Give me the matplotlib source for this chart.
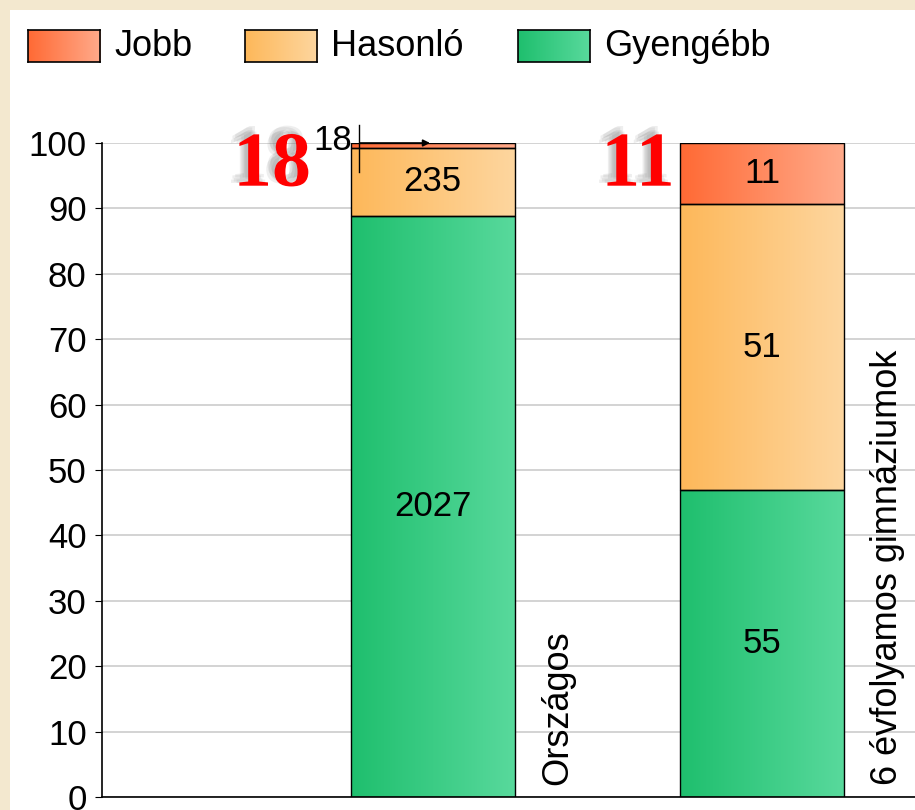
import numpy as np
import matplotlib.pyplot as plt
import matplotlib.patheffects as pe
from matplotlib.patches import Rectangle
from matplotlib.colors import LinearSegmentedColormap

plt.rcParams['font.family'] = ['Liberation Sans', 'DejaVu Sans']

categories = ['Országos', '6 évfolyamos gimnáziumok']
series = ['Jobb', 'Hasonló', 'Gyengébb']
counts = {
    'Gyengébb': [2027, 55],
    'Hasonló': [235, 51],
    'Jobb': [18, 11],
}
big_labels = ['18', '11']
colors = {
    'Jobb': ('#ff6a35', '#ffaa8a'),
    'Hasonló': ('#fdb85a', '#fed69f'),
    'Gyengébb': ('#1fbf6e', '#58d99c'),
}

totals = np.array([sum(counts[s][i] for s in series) for i in range(len(categories))])
pct = {s: np.array(counts[s]) / totals * 100 for s in series}

fig = plt.figure(figsize=(9.15, 8.1), dpi=100)
fig.patch.set_facecolor('#f3e8cf')
bg = Rectangle((10 / 915, 0), 1, 1 - 10 / 810, transform=fig.transFigure,
               facecolor='white', edgecolor='none', zorder=-10)
fig.patches.append(bg)

ax = fig.add_axes([102 / 915, 13 / 810, 1 - 102 / 915, (797 - 143) / 810])
ax.set_facecolor('white')
x = np.arange(len(categories))
width = 0.5


def grad_fill(ax, patch, c0, c1):
    cmap = LinearSegmentedColormap.from_list('g', [c0, c1])
    bx, by = patch.get_x(), patch.get_y()
    bw, bh = patch.get_width(), patch.get_height()
    im = ax.imshow(np.linspace(0, 1, 64)[None, :], cmap=cmap, aspect='auto',
                   extent=[bx, bx + bw, by, by + bh], zorder=2)
    im.set_clip_path(patch)
    patch.set_facecolor('none')


bottom = np.zeros(len(categories))
for s in ['Gyengébb', 'Hasonló', 'Jobb']:
    bars = ax.bar(x, pct[s], width, bottom=bottom, edgecolor='black', linewidth=1.0, zorder=3)
    for i, b in enumerate(bars):
        grad_fill(ax, b, *colors[s])
        if pct[s][i] > 3:
            ax.text(x[i], bottom[i] + pct[s][i] / 2, str(counts[s][i]), ha='center', va='center',
                    fontsize=25, zorder=5)
    bottom += pct[s]

# small outside label for the tiny segment
ax.annotate('', xy=(x[0], 100), xytext=(x[0] - 0.23, 100),
            arrowprops=dict(arrowstyle='-|>', color='black', lw=1.2, mutation_scale=10), zorder=6)
ax.plot([x[0] - 0.225, x[0] - 0.225], [95.5, 102.8], color='black', lw=1, zorder=6, clip_on=False)
ax.text(x[0] - 0.245, 100.4, str(counts['Jobb'][0]), ha='right', va='center', fontsize=25, zorder=6)

# big red labels (hand-placed beside each bar)
red_dx = [-0.37, -0.265]
shadow = [pe.SimplePatchShadow(offset=(dx, dy), shadow_rgbFace='#777777', alpha=0.12)
          for dx, dy in [(-2, 2), (-4, 3), (-5, 5), (-3, 6), (-6, 2)]]
for i, lab in enumerate(big_labels):
    ax.text(x[i] + red_dx[i], 96.3, lab, ha='right', va='center', fontsize=56, fontweight='bold',
            color='red', family='Liberation Serif', zorder=7, clip_on=False,
            path_effects=shadow + [pe.Normal()])

# category labels rotated
for i, c in enumerate(categories):
    ax.text(x[i] + width / 2 + 0.13, 1.8, c, rotation=90, ha='center', va='bottom', fontsize=26)

ax.set_xlim(-1.005, 1.465)
ax.set_ylim(0, 100)
ax.set_yticks(np.arange(0, 101, 10))
ax.set_xticks([])
ax.tick_params(axis='y', labelsize=25, length=5, direction='out', pad=6)
ax.grid(axis='y', color='#cccccc', lw=1.2, zorder=0)
ax.set_axisbelow(True)
for sp in ['top', 'right']:
    ax.spines[sp].set_visible(False)
ax.spines['left'].set_linewidth(1.2)
ax.spines['bottom'].set_linewidth(1.2)

# legend
lx = [28, 245, 518]
for s, px in zip(series, lx):
    lax = fig.add_axes([px / 915, 1 - 62 / 810, 72 / 915, 32 / 810])
    cmap = LinearSegmentedColormap.from_list('g', list(colors[s]))
    lax.imshow(np.linspace(0, 1, 64)[None, :], cmap=cmap, aspect='auto')
    lax.set_xticks([])
    lax.set_yticks([])
    for sp in lax.spines.values():
        sp.set_linewidth(1.2)
    fig.text((px + 86) / 915, 1 - 46 / 810, s, ha='left', va='center', fontsize=26)

fig.savefig('out.png', dpi=100, facecolor=fig.get_facecolor())
